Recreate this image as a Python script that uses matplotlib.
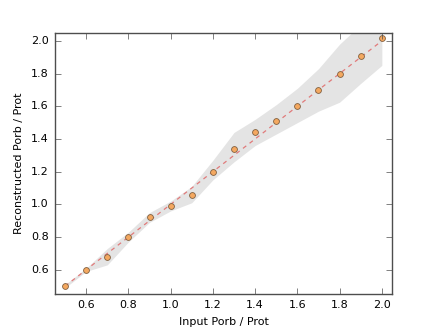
import matplotlib
matplotlib.use("Agg")
import matplotlib.pyplot as plt
import numpy as np

plt.style.use('classic')

ratio_in = [0.5, 0.6, 0.7, 0.8, 0.9, 1.0, 1.1, 1.2, 1.3, 1.4, 1.5, 1.6, 1.7, 1.8, 1.9, 2.0]
ratio_out = [0.50, 0.60, 0.68, 0.80, 0.92, 0.99, 1.06, 1.20, 1.34, 1.44, 1.51, 1.60, 1.70, 1.80, 1.91, 2.02]
band_lo = [0.49, 0.59, 0.63, 0.77, 0.89, 0.96, 1.01, 1.15, 1.26, 1.36, 1.43, 1.50, 1.57, 1.625, 1.74, 1.85]
band_hi = [0.51, 0.61, 0.73, 0.83, 0.95, 1.02, 1.11, 1.27, 1.44, 1.52, 1.61, 1.71, 1.83, 1.98, 2.10, 2.15]

fig, ax = plt.subplots(figsize=(4.36, 3.27), dpi=100)
ax.fill_between(ratio_in, band_lo, band_hi, color='0.85', alpha=0.7, lw=0)
ax.plot([0.5, 2.0], [0.5, 2.0], '--', color='#e06060', alpha=0.8, lw=0.9, dashes=(3, 3))
ax.plot(ratio_in, ratio_out, 'o', color='#f4a860', mec='#806040', mew=0.6, ms=4.2)

for sp in ax.spines.values():
    sp.set_color('0.3')
ax.set_xlim(0.45, 2.05)
ax.set_ylim(0.45, 2.05)
ax.set_xticks(np.arange(0.6, 2.01, 0.2))
ax.set_yticks(np.arange(0.6, 2.01, 0.2))
ax.tick_params(labelsize=8, color='0.3')
ax.set_xlabel('Input Porb / Prot', fontsize=8)
ax.set_ylabel('Reconstructed Porb / Prot', fontsize=8)

fig.savefig('out.png', dpi=100)
